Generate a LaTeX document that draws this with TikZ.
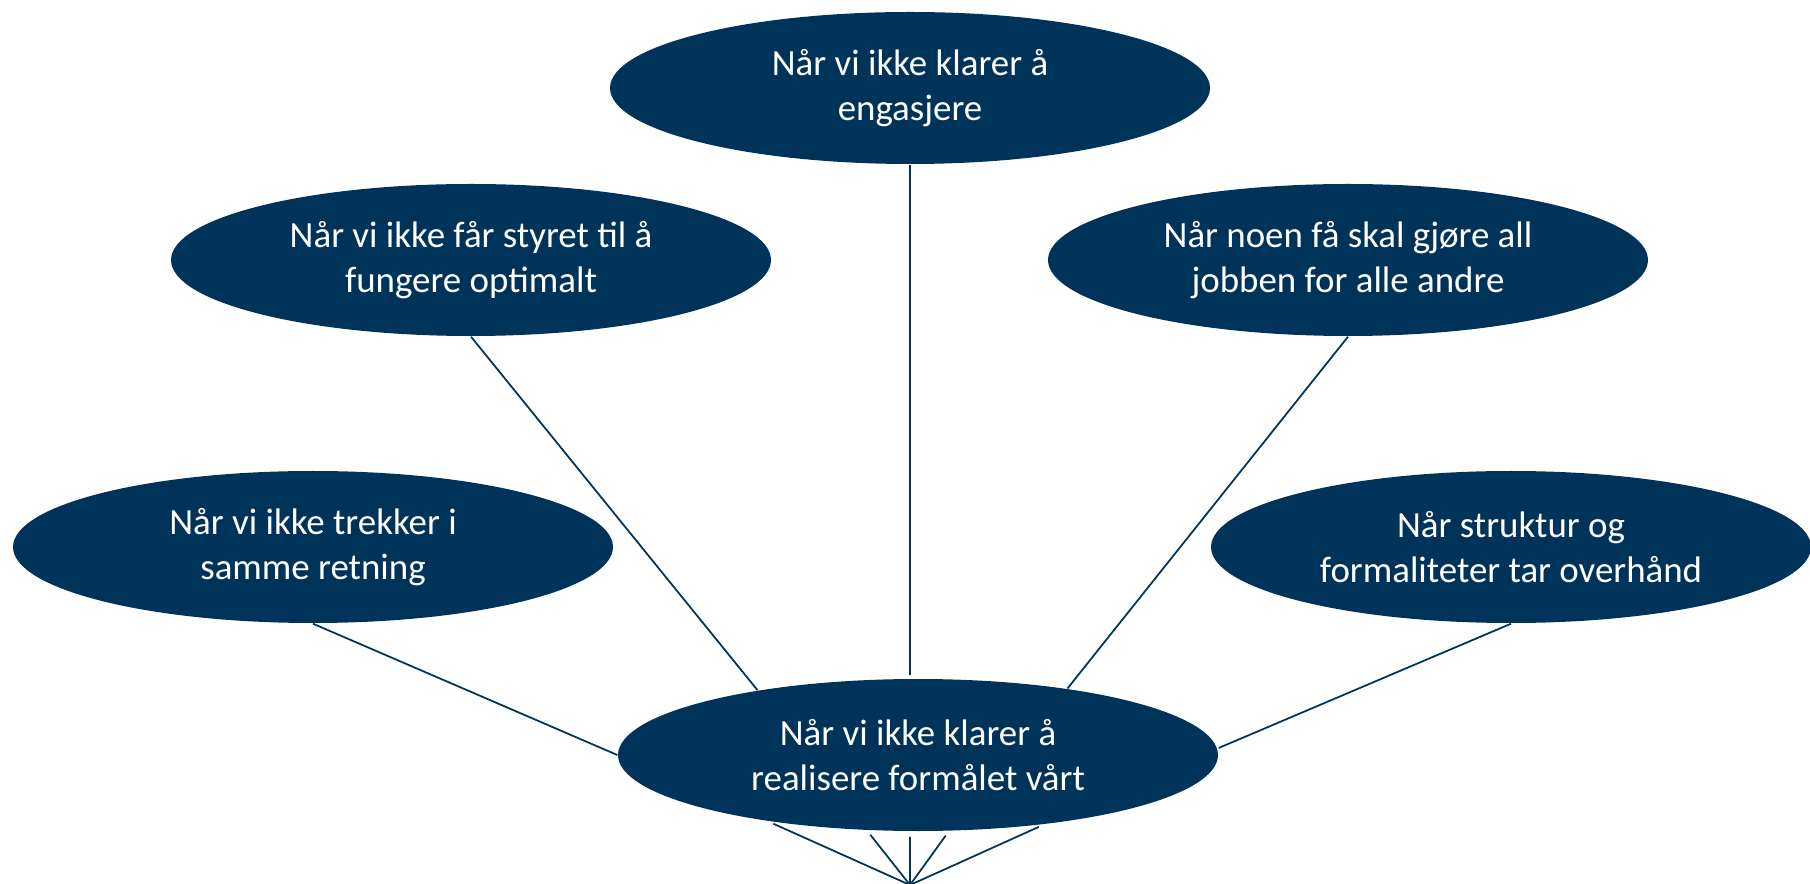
\documentclass[tikz,border=0pt]{standalone}
\usepackage{fontspec}
\setmainfont{Carlito}
\usetikzlibrary{shapes.geometric}
\definecolor{navy}{RGB}{0,51,89}

\begin{document}
\begin{tikzpicture}
\tikzstyle{blob}=[ellipse,fill=navy,text=white,minimum width=6cm,minimum height=1.52cm,inner sep=0pt,align=center,font=\fontsize{10.5}{13}\selectfont]
\tikzstyle{link}=[draw=navy,line width=0.5pt]
\useasboundingbox (0,0) rectangle (18.10,8.83);

  \node[blob] (engage) at (9.10,7.95) {Når vi ikke klarer å\\engasjere};
  \node[blob] (board) at (4.71,6.23) {Når vi ikke får styret til å\\fungere optimalt};
  \node[blob] (fewdo) at (13.48,6.23) {Når noen få skal gjøre all\\jobben for alle andre};
  \node[blob] (direction) at (3.13,3.36) {Når vi ikke trekker i\\samme retning};
  \node[blob] (formal) at (15.11,3.36) {Når struktur og\\formaliteter tar overhånd};
  \node[blob] (purpose) at (9.18,1.28) {Når vi ikke klarer å\\realisere formålet vårt};
  \coordinate (hub) at (9.10,-0.02);

  % spokes into the centre
  \draw[link,shorten >=1pt] (engage.south) -- (engage.south |- purpose.north);
  \draw[link] (board.south) -- (purpose.158);
  \draw[link] (fewdo.south) -- (purpose.24);
  \draw[link] (direction.south) -- (purpose.west);
  \draw[link] (formal.south) -- ([yshift=2pt]purpose.east);

  % fan below
  \foreach \a in {204,236,264,292,331}
    \draw[link,shorten <=1.5pt] (purpose.\a) -- (hub);
\end{tikzpicture}
\end{document}
